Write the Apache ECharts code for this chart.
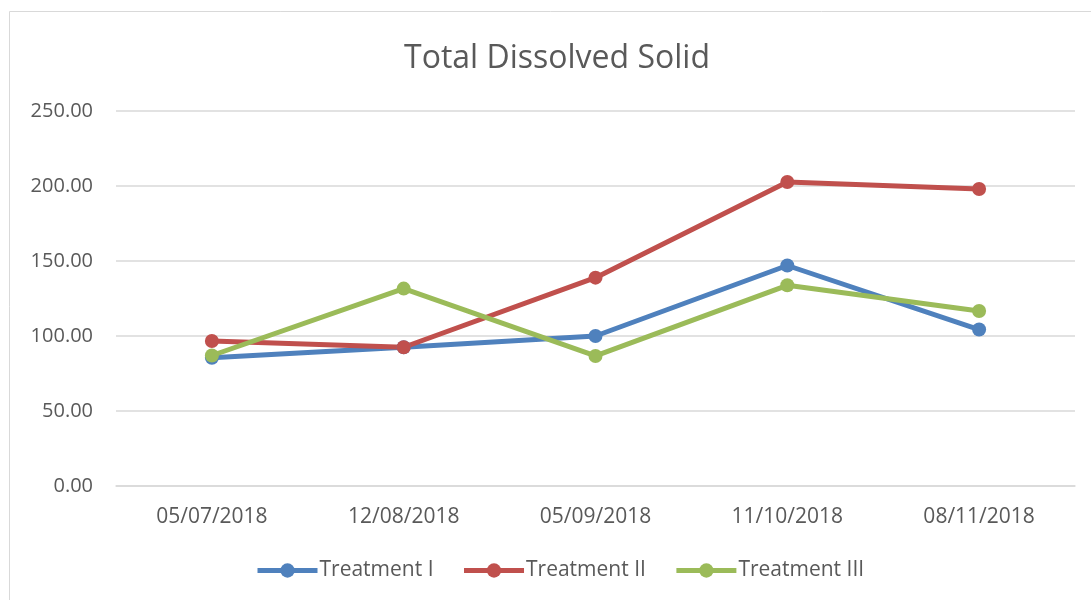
<!DOCTYPE html>
<html>
<head>
<meta charset="utf-8">
<script src="https://cdn.jsdelivr.net/npm/echarts@6/dist/echarts.min.js"></script>
<style>
  html, body { margin: 0; padding: 0; background: #fff; }
  #chart { width: 1091px; height: 600px; }
</style>
</head>
<body>
<div id="chart"></div>
<script>
// values
const dates = ['05/07/2018', '12/08/2018', '05/09/2018', '11/10/2018', '08/11/2018']
const treatment1 = [85.5, 92.5, 100.0, 147.0, 104.3]
const treatment2 = [96.7, 92.5, 138.9, 202.7, 198.0]
const treatment3 = [87.0, 131.6, 86.7, 133.8, 116.7]

const font = 'Open Sans'
const textColor = '#595959'

function lineSeries(name, data, color) {
  return {
    name: name,
    type: 'line',
    data: data,
    symbol: 'circle',
    symbolSize: 14,
    lineStyle: { width: 5, color: color },
    itemStyle: { color: color },
    emphasis: { disabled: true }
  }
}

const chart = echarts.init(document.getElementById('chart'))
chart.setOption({
  animation: false,
  textStyle: { fontFamily: font },
  title: {
    text: 'Total Dissolved Solid',
    left: 399,
    top: 38,
    textStyle: { fontFamily: font, fontSize: 32, fontWeight: 'normal', color: textColor }
  },
  legend: {
    bottom: 14,
    left: 250,
    itemWidth: 60,
    itemHeight: 18,
    itemGap: 28,
    lineStyle: { width: 5 },
    textStyle: { fontFamily: font, fontSize: 21, color: textColor, padding: [0, 0, 0, -3] }
  },
  grid: { left: 116, right: 16, top: 111, bottom: 114 },
  xAxis: {
    type: 'category',
    data: dates,
    boundaryGap: true,
    axisLine: { lineStyle: { color: '#d9d9d9', width: 1.5 } },
    axisTick: { show: false },
    axisLabel: { fontFamily: font, fontSize: 21, color: textColor, margin: 21 }
  },
  yAxis: {
    type: 'value',
    min: 0,
    max: 250,
    interval: 50,
    axisLine: { show: false },
    axisTick: { show: false },
    splitLine: { lineStyle: { color: '#d9d9d9', width: 1.5 } },
    axisLabel: {
      fontFamily: font, fontSize: 20, color: textColor, margin: 23,
      formatter: v => v.toFixed(2)
    }
  },
  graphic: [{
    type: 'rect',
    shape: { x: 9.5, y: 11.5, width: 1100, height: 620 },
    style: { fill: 'none', stroke: '#d9d9d9', lineWidth: 1 },
    silent: true
  }],
  series: [
    lineSeries('Treatment I', treatment1, '#4F81BD'),
    lineSeries('Treatment II', treatment2, '#C0504D'),
    lineSeries('Treatment III', treatment3, '#9BBB59')
  ]
})
</script>
</body>
</html>
